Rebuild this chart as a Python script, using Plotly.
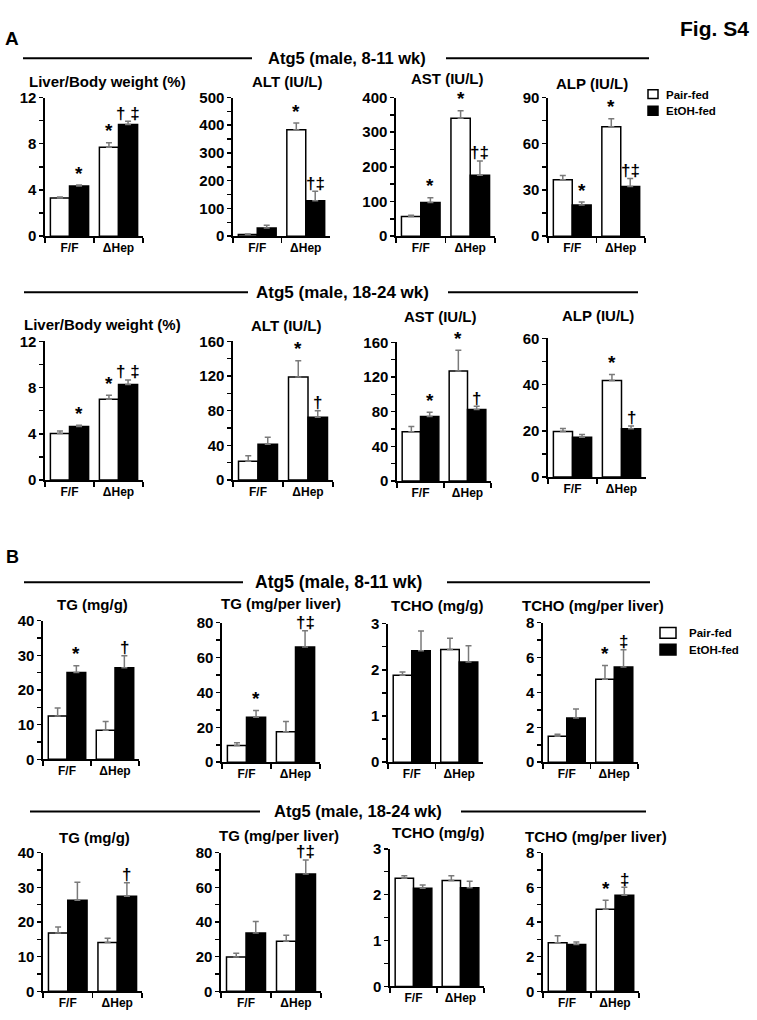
import plotly.graph_objects as go

W, H = 757, 1020
FONT = "Liberation Sans, Arial, Helvetica, sans-serif"

categories = ["F/F", "ΔHep"]
series_names = ["Pair-fed", "EtOH-fed"]

# ---------------- Panel A : Atg5 (male, 8-11 wk) ----------------
a1_lbw_pair = [3.30, 7.70]
a1_lbw_pair_sem = [0.08, 0.38]
a1_lbw_etoh = [4.35, 9.67]
a1_lbw_etoh_sem = [0.07, 0.27]

a1_alt_pair = [6, 384]
a1_alt_pair_sem = [2, 24]
a1_alt_etoh = [29, 128]
a1_alt_etoh_sem = [10, 34]

a1_ast_pair = [57, 340]
a1_ast_pair_sem = [3, 22]
a1_ast_etoh = [97, 176]
a1_ast_etoh_sem = [14, 41]

a1_alp_pair = [36.6, 71.0]
a1_alp_pair_sem = [2.8, 5.2]
a1_alp_etoh = [20.2, 32.3]
a1_alp_etoh_sem = [1.9, 5.1]

# ---------------- Panel A : Atg5 (male, 18-24 wk) ----------------
a2_lbw_pair = [4.02, 7.00]
a2_lbw_pair_sem = [0.22, 0.34]
a2_lbw_etoh = [4.64, 8.26]
a2_lbw_etoh_sem = [0.09, 0.40]

a2_alt_pair = [21.6, 119.0]
a2_alt_pair_sem = [6.4, 18.7]
a2_alt_etoh = [41.3, 72.4]
a2_alt_etoh_sem = [8.0, 7.6]

a2_ast_pair = [56.7, 127.0]
a2_ast_pair_sem = [6.1, 24.0]
a2_ast_etoh = [74.5, 82.4]
a2_ast_etoh_sem = [4.9, 3.8]

a2_alp_pair = [19.7, 41.8]
a2_alp_pair_sem = [1.3, 2.6]
a2_alp_etoh = [17.2, 20.9]
a2_alp_etoh_sem = [1.2, 1.2]

# ---------------- Panel B : Atg5 (male, 8-11 wk) ----------------
b1_tg_pair = [12.5, 8.4]
b1_tg_pair_sem = [2.3, 2.5]
b1_tg_etoh = [25.0, 26.4]
b1_tg_etoh_sem = [2.0, 3.5]

b1_tgl_pair = [9.6, 17.4]
b1_tgl_pair_sem = [1.5, 6.0]
b1_tgl_etoh = [25.8, 66.0]
b1_tgl_etoh_sem = [3.8, 9.3]

b1_tc_pair = [1.88, 2.44]
b1_tc_pair_sem = [0.07, 0.24]
b1_tc_etoh = [2.41, 2.17]
b1_tc_etoh_sem = [0.43, 0.35]

b1_tcl_pair = [1.49, 4.75]
b1_tcl_pair_sem = [0.11, 0.79]
b1_tcl_etoh = [2.54, 5.46]
b1_tcl_etoh_sem = [0.51, 0.98]

# ---------------- Panel B : Atg5 (male, 18-24 wk) ----------------
b2_tg_pair = [16.8, 14.1]
b2_tg_pair_sem = [1.8, 1.2]
b2_tg_etoh = [26.3, 27.4]
b2_tg_etoh_sem = [5.2, 3.9]

b2_tgl_pair = [19.8, 28.9]
b2_tgl_pair_sem = [2.2, 3.4]
b2_tgl_etoh = [33.6, 67.7]
b2_tgl_etoh_sem = [6.7, 8.1]

b2_tc_pair = [2.36, 2.31]
b2_tc_pair_sem = [0.05, 0.10]
b2_tc_etoh = [2.14, 2.15]
b2_tc_etoh_sem = [0.07, 0.14]

b2_tcl_pair = [2.80, 4.74]
b2_tcl_pair_sem = [0.41, 0.52]
b2_tcl_etoh = [2.70, 5.54]
b2_tcl_etoh_sem = [0.15, 0.47]

# significance marks: (category index, series index 0=Pair 1=EtOH, text)
sig_a1_lbw = [(0, 1, "*"), (1, 0, "*"), (1, 1, "† ‡")]
sig_a1_alt = [(1, 0, "*"), (1, 1, "†‡")]
sig_a1_ast = [(0, 1, "*"), (1, 0, "*"), (1, 1, "†‡")]
sig_a1_alp = [(0, 1, "*"), (1, 0, "*"), (1, 1, "†‡")]
sig_a2_lbw = [(0, 1, "*"), (1, 0, "*"), (1, 1, "† ‡")]
sig_a2_alt = [(1, 0, "*"), (1, 1, "†")]
sig_a2_ast = [(0, 1, "*"), (1, 0, "*"), (1, 1, "†")]
sig_a2_alp = [(1, 0, "*"), (1, 1, "†")]
sig_b1_tg = [(0, 1, "*"), (1, 1, "†")]
sig_b1_tgl = [(0, 1, "*"), (1, 1, "†‡")]
sig_b1_tc = []
sig_b1_tcl = [(1, 0, "*"), (1, 1, "‡")]
sig_b2_tg = [(1, 1, "†")]
sig_b2_tgl = [(1, 1, "†‡")]
sig_b2_tc = []
sig_b2_tcl = [(1, 0, "*"), (1, 1, "‡")]

panels = [
    # title, pair, pair_sem, etoh, etoh_sem, sig, ymax, dtick, box(px: x0,x1,ytop,ybot), title center(px)
    ("Liver/Body weight (%)", a1_lbw_pair, a1_lbw_pair_sem, a1_lbw_etoh, a1_lbw_etoh_sem, sig_a1_lbw, 12, 4, (45, 143, 90, 231), (107, 74)),
    ("ALT (IU/L)", a1_alt_pair, a1_alt_pair_sem, a1_alt_etoh, a1_alt_etoh_sem, sig_a1_alt, 500, 100, (233, 330, 90, 231), (287, 74)),
    ("AST (IU/L)", a1_ast_pair, a1_ast_pair_sem, a1_ast_etoh, a1_ast_etoh_sem, sig_a1_ast, 400, 100, (396, 495, 90, 231), (447, 71)),
    ("ALP (IU/L)", a1_alp_pair, a1_alp_pair_sem, a1_alp_etoh, a1_alp_etoh_sem, sig_a1_alp, 90, 30, (548, 645, 90, 231), (592, 76)),
    ("Liver/Body weight (%)", a2_lbw_pair, a2_lbw_pair_sem, a2_lbw_etoh, a2_lbw_etoh_sem, sig_a2_lbw, 12, 4, (45, 143, 338, 479), (102, 321)),
    ("ALT (IU/L)", a2_alt_pair, a2_alt_pair_sem, a2_alt_etoh, a2_alt_etoh_sem, sig_a2_alt, 160, 40, (233, 333, 338, 479), (286, 322)),
    ("AST (IU/L)", a2_ast_pair, a2_ast_pair_sem, a2_ast_etoh, a2_ast_etoh_sem, sig_a2_ast, 160, 40, (397, 491, 339, 480), (440, 313)),
    ("ALP (IU/L)", a2_alp_pair, a2_alp_pair_sem, a2_alp_etoh, a2_alp_etoh_sem, sig_a2_alp, 60, 20, (548, 646, 335, 476), (598, 312)),
    ("TG (mg/g)", b1_tg_pair, b1_tg_pair_sem, b1_tg_etoh, b1_tg_etoh_sem, sig_b1_tg, 40, 10, (43, 139, 622, 763), (92, 606)),
    ("TG (mg/per liver)", b1_tgl_pair, b1_tgl_pair_sem, b1_tgl_etoh, b1_tgl_etoh_sem, sig_b1_tgl, 80, 20, (222, 320, 624, 766), (281, 605)),
    ("TCHO (mg/g)", b1_tc_pair, b1_tc_pair_sem, b1_tc_etoh, b1_tc_etoh_sem, sig_b1_tc, 3, 1, (388, 483, 625, 766), (437, 607)),
    ("TCHO (mg/per liver)", b1_tcl_pair, b1_tcl_pair_sem, b1_tcl_etoh, b1_tcl_etoh_sem, sig_b1_tcl, 8, 2, (543, 638, 624, 766), (593, 607)),
    ("TG (mg/g)", b2_tg_pair, b2_tg_pair_sem, b2_tg_etoh, b2_tg_etoh_sem, sig_b2_tg, 40, 10, (43, 142, 858, 999), (94, 843)),
    ("TG (mg/per liver)", b2_tgl_pair, b2_tgl_pair_sem, b2_tgl_etoh, b2_tgl_etoh_sem, sig_b2_tgl, 80, 20, (221, 321, 858, 999), (279, 840)),
    ("TCHO (mg/g)", b2_tc_pair, b2_tc_pair_sem, b2_tc_etoh, b2_tc_etoh_sem, sig_b2_tc, 3, 1, (390, 484, 854, 994), (438, 837)),
    ("TCHO (mg/per liver)", b2_tcl_pair, b2_tcl_pair_sem, b2_tcl_etoh, b2_tcl_etoh_sem, sig_b2_tcl, 8, 2, (543, 639, 858, 999), (596, 842)),
]

headers = [
    # text, center(px), y(px), left line (x0,x1), right line (x0,x1), font size
    ("Atg5 (male, 8-11 wk)", 347, 50, (23, 252), (446, 649), 16.5),
    ("Atg5 (male, 18-24 wk)", 342, 288, (24, 248), (448, 638), 17),
    ("Atg5 (male, 8-11 wk)", 338, 583, (24, 243), (447, 650), 17.5),
    ("Atg5 (male, 18-24 wk)", 358, 816, (30, 260), (461, 646), 16.5),
]

# legend entries drawn next to panels A and B: (box x0, x1, y0, y1, text x, text y) per series
legend_boxes = [
    [(648, 658, 82, 91, 664, 87), (648, 658, 99, 108, 664, 104)],
    [(660, 676, 629, 640, 687, 635), (660, 676, 646, 657, 687, 652)],
]


def px(x):
    return x / W


def py(y):
    return 1 - y / H


BW = 0.39  # bar width in category units
fig = go.Figure()
annotations = []
shapes = []
layout = {}
fills = ["white", "black"]

for i, (title, pv, pe, ev, ee, sig, ymax, dtick, box, tpos) in enumerate(panels):
    n = i + 1
    xa = "x" if n == 1 else f"x{n}"
    ya = "y" if n == 1 else f"y{n}"
    for s, (vals, errs) in enumerate([(pv, pe), (ev, ee)]):
        fig.add_trace(go.Bar(
            x=categories, y=vals, name=series_names[s],
            xaxis=xa, yaxis=ya,
            width=BW, offset=-BW if s == 0 else 0,
            marker=dict(color=fills[s], line=dict(color="black", width=1.5)),
            error_y=dict(type="data", symmetric=False, array=errs,
                         arrayminus=[0] * len(errs), color="#7a7a7a",
                         thickness=1.5, width=3),
            showlegend=False, hoverinfo="skip",
        ))

    x0, x1, yt, yb = box
    axis_line = dict(showline=True, linecolor="black", linewidth=1.6,
                     showgrid=False, zeroline=False, fixedrange=True)
    layout["xaxis" if n == 1 else f"xaxis{n}"] = dict(
        domain=[px(x0), px(x1)], anchor=ya, type="category",
        range=[-0.5, 1.5], tickson="boundaries", ticks="outside",
        ticklen=5, tickwidth=1.5, tickcolor="black",
        tickfont=dict(family=FONT, size=12, color="black", weight="bold"),
        **axis_line)
    layout["yaxis" if n == 1 else f"yaxis{n}"] = dict(
        domain=[py(yb), py(yt)], anchor=xa, range=[0, ymax],
        dtick=dtick, tick0=0, ticks="outside", ticklen=4, tickwidth=1.5,
        tickcolor="black",
        minor=dict(dtick=dtick / 2, ticks="outside", ticklen=4,
                   tickwidth=1.5, tickcolor="black"),
        tickfont=dict(family=FONT, size=15, color="black", weight="bold"),
        **axis_line)

    annotations.append(dict(
        x=px(tpos[0]), y=py(tpos[1]), xref="paper", yref="paper",
        text=f"<b>{title}</b>", showarrow=False, xanchor="center", yanchor="middle",
        font=dict(family=FONT, size=15, color="black")))

    for (c, s, txt) in sig:
        vals = pv if s == 0 else ev
        errs = pe if s == 0 else ee
        xpos = c - BW / 2 if s == 0 else c + BW / 2
        star = txt == "*"
        annotations.append(dict(
            x=xpos, y=vals[c] + errs[c], xref=xa, yref=ya,
            text=f"<b>{txt}</b>", showarrow=False, xanchor="center",
            yanchor="middle", yshift=12 if star else 8,
            font=dict(family=FONT, size=19 if star else 17, color="black")))

for (txt, cx, cy, l1, l2, fs) in headers:
    annotations.append(dict(
        x=px(cx), y=py(cy), xref="paper", yref="paper", text=f"<b>{txt}</b>",
        showarrow=False, xanchor="center", yanchor="middle",
        font=dict(family=FONT, size=fs, color="black")))
    for (a, b) in (l1, l2):
        shapes.append(dict(type="line", xref="paper", yref="paper",
                           x0=px(a), x1=px(b), y0=py(cy), y1=py(cy),
                           line=dict(color="black", width=2)))

for entries in legend_boxes:
    for s, (bx0, bx1, by0, by1, tx, ty) in enumerate(entries):
        shapes.append(dict(type="rect", xref="paper", yref="paper",
                           x0=px(bx0), x1=px(bx1), y0=py(by1), y1=py(by0),
                           fillcolor=fills[s], line=dict(color="black", width=1.5)))
        annotations.append(dict(
            x=px(tx), y=py(ty), xref="paper", yref="paper",
            text=f"<b>{series_names[s]}</b>", showarrow=False,
            xanchor="left", yanchor="middle",
            font=dict(family=FONT, size=11.5, color="black")))

annotations += [
    dict(x=px(3), y=py(30), xref="paper", yref="paper", text="<b>A</b>",
         showarrow=False, xanchor="left", yanchor="middle",
         font=dict(family=FONT, size=19, color="black")),
    dict(x=px(4), y=py(557), xref="paper", yref="paper", text="<b>B</b>",
         showarrow=False, xanchor="left", yanchor="middle",
         font=dict(family=FONT, size=18, color="black")),
    dict(x=px(751), y=py(20), xref="paper", yref="paper", text="<b>Fig. S4</b>",
         showarrow=False, xanchor="right", yanchor="middle",
         font=dict(family=FONT, size=21, color="black")),
]

fig.update_layout(
    width=W, height=H, autosize=False,
    margin=dict(l=0, r=0, t=0, b=0, pad=0),
    paper_bgcolor="white", plot_bgcolor="white",
    barmode="overlay",
    showlegend=False,
    annotations=annotations, shapes=shapes,
    font=dict(family=FONT, color="black"),
    **layout,
)

fig.write_html("out.html", config={"displayModeBar": False, "staticPlot": True},
               post_script="document.body.style.margin='0px';document.body.style.overflow='hidden';")
